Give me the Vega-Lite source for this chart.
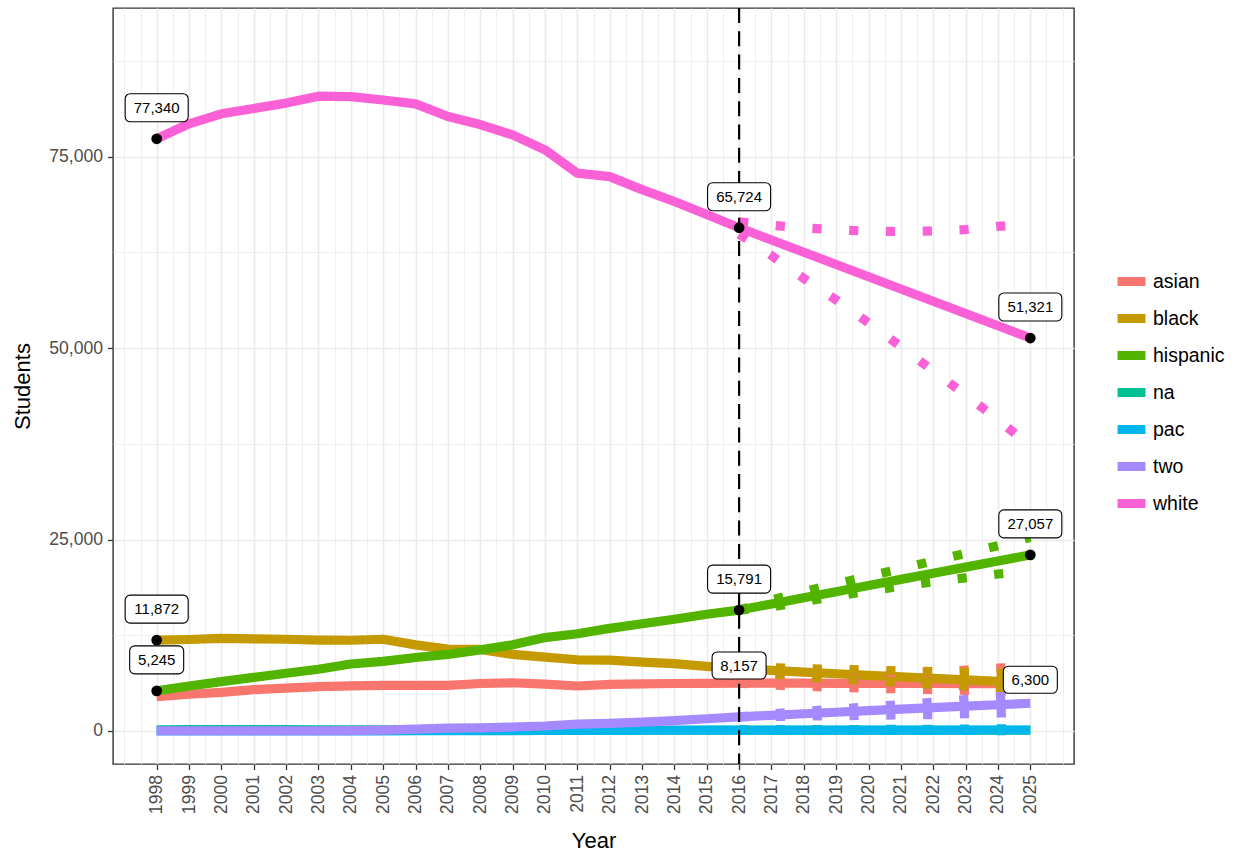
{
  "$schema": "https://vega.github.io/schema/vega-lite/v6.json",
  "description": "Student enrollment by group, 1998-2016 with projections to 2025",
  "width": 961,
  "height": 756,
  "autosize": {"type": "none"},
  "padding": {"left": 113, "top": 8, "right": 164, "bottom": 91},
  "background": "white",
  "datasets": {
    "enrollment": [
      {"group": "asian", "series": "base", "year": 1998, "students": 4500},
      {"group": "asian", "series": "base", "year": 1999, "students": 4800},
      {"group": "asian", "series": "base", "year": 2000, "students": 5050},
      {"group": "asian", "series": "base", "year": 2001, "students": 5400},
      {"group": "asian", "series": "base", "year": 2002, "students": 5600},
      {"group": "asian", "series": "base", "year": 2003, "students": 5800},
      {"group": "asian", "series": "base", "year": 2004, "students": 5880},
      {"group": "asian", "series": "base", "year": 2005, "students": 5970},
      {"group": "asian", "series": "base", "year": 2006, "students": 5950},
      {"group": "asian", "series": "base", "year": 2007, "students": 5950},
      {"group": "asian", "series": "base", "year": 2008, "students": 6200},
      {"group": "asian", "series": "base", "year": 2009, "students": 6300},
      {"group": "asian", "series": "base", "year": 2010, "students": 6130},
      {"group": "asian", "series": "base", "year": 2011, "students": 5880},
      {"group": "asian", "series": "base", "year": 2012, "students": 6100},
      {"group": "asian", "series": "base", "year": 2013, "students": 6150},
      {"group": "asian", "series": "base", "year": 2014, "students": 6200},
      {"group": "asian", "series": "base", "year": 2015, "students": 6230},
      {"group": "asian", "series": "base", "year": 2016, "students": 6250},
      {"group": "asian", "series": "base", "year": 2017, "students": 6250},
      {"group": "asian", "series": "base", "year": 2018, "students": 6240},
      {"group": "asian", "series": "base", "year": 2019, "students": 6230},
      {"group": "asian", "series": "base", "year": 2020, "students": 6220},
      {"group": "asian", "series": "base", "year": 2021, "students": 6210},
      {"group": "asian", "series": "base", "year": 2022, "students": 6200},
      {"group": "asian", "series": "base", "year": 2023, "students": 6190},
      {"group": "asian", "series": "base", "year": 2024, "students": 6180},
      {"group": "asian", "series": "base", "year": 2025, "students": 6170},
      {"group": "black", "series": "base", "year": 1998, "students": 11872},
      {"group": "black", "series": "base", "year": 1999, "students": 11950},
      {"group": "black", "series": "base", "year": 2000, "students": 12100},
      {"group": "black", "series": "base", "year": 2001, "students": 12020},
      {"group": "black", "series": "base", "year": 2002, "students": 11980},
      {"group": "black", "series": "base", "year": 2003, "students": 11880},
      {"group": "black", "series": "base", "year": 2004, "students": 11850},
      {"group": "black", "series": "base", "year": 2005, "students": 11980},
      {"group": "black", "series": "base", "year": 2006, "students": 11250},
      {"group": "black", "series": "base", "year": 2007, "students": 10700},
      {"group": "black", "series": "base", "year": 2008, "students": 10650},
      {"group": "black", "series": "base", "year": 2009, "students": 10000},
      {"group": "black", "series": "base", "year": 2010, "students": 9650},
      {"group": "black", "series": "base", "year": 2011, "students": 9300},
      {"group": "black", "series": "base", "year": 2012, "students": 9250},
      {"group": "black", "series": "base", "year": 2013, "students": 9000},
      {"group": "black", "series": "base", "year": 2014, "students": 8800},
      {"group": "black", "series": "base", "year": 2015, "students": 8450},
      {"group": "black", "series": "base", "year": 2016, "students": 8157},
      {"group": "black", "series": "base", "year": 2017, "students": 7920},
      {"group": "black", "series": "base", "year": 2018, "students": 7700},
      {"group": "black", "series": "base", "year": 2019, "students": 7480},
      {"group": "black", "series": "base", "year": 2020, "students": 7270},
      {"group": "black", "series": "base", "year": 2021, "students": 7070},
      {"group": "black", "series": "base", "year": 2022, "students": 6870},
      {"group": "black", "series": "base", "year": 2023, "students": 6680},
      {"group": "black", "series": "base", "year": 2024, "students": 6490},
      {"group": "black", "series": "base", "year": 2025, "students": 6300},
      {"group": "hispanic", "series": "base", "year": 1998, "students": 5245},
      {"group": "hispanic", "series": "base", "year": 1999, "students": 5880},
      {"group": "hispanic", "series": "base", "year": 2000, "students": 6450},
      {"group": "hispanic", "series": "base", "year": 2001, "students": 7010},
      {"group": "hispanic", "series": "base", "year": 2002, "students": 7540},
      {"group": "hispanic", "series": "base", "year": 2003, "students": 8060},
      {"group": "hispanic", "series": "base", "year": 2004, "students": 8750},
      {"group": "hispanic", "series": "base", "year": 2005, "students": 9100},
      {"group": "hispanic", "series": "base", "year": 2006, "students": 9600},
      {"group": "hispanic", "series": "base", "year": 2007, "students": 10000},
      {"group": "hispanic", "series": "base", "year": 2008, "students": 10600},
      {"group": "hispanic", "series": "base", "year": 2009, "students": 11250},
      {"group": "hispanic", "series": "base", "year": 2010, "students": 12200},
      {"group": "hispanic", "series": "base", "year": 2011, "students": 12700},
      {"group": "hispanic", "series": "base", "year": 2012, "students": 13400},
      {"group": "hispanic", "series": "base", "year": 2013, "students": 14000},
      {"group": "hispanic", "series": "base", "year": 2014, "students": 14600},
      {"group": "hispanic", "series": "base", "year": 2015, "students": 15250},
      {"group": "hispanic", "series": "base", "year": 2016, "students": 15791},
      {"group": "hispanic", "series": "base", "year": 2017, "students": 16590},
      {"group": "hispanic", "series": "base", "year": 2018, "students": 17390},
      {"group": "hispanic", "series": "base", "year": 2019, "students": 18190},
      {"group": "hispanic", "series": "base", "year": 2020, "students": 19000},
      {"group": "hispanic", "series": "base", "year": 2021, "students": 19800},
      {"group": "hispanic", "series": "base", "year": 2022, "students": 20600},
      {"group": "hispanic", "series": "base", "year": 2023, "students": 21400},
      {"group": "hispanic", "series": "base", "year": 2024, "students": 22200},
      {"group": "hispanic", "series": "base", "year": 2025, "students": 23000},
      {"group": "na", "series": "base", "year": 1998, "students": 160},
      {"group": "na", "series": "base", "year": 1999, "students": 170},
      {"group": "na", "series": "base", "year": 2000, "students": 180},
      {"group": "na", "series": "base", "year": 2001, "students": 180},
      {"group": "na", "series": "base", "year": 2002, "students": 170},
      {"group": "na", "series": "base", "year": 2003, "students": 160},
      {"group": "na", "series": "base", "year": 2004, "students": 150},
      {"group": "na", "series": "base", "year": 2005, "students": 150},
      {"group": "na", "series": "base", "year": 2006, "students": 140},
      {"group": "na", "series": "base", "year": 2007, "students": 130},
      {"group": "na", "series": "base", "year": 2008, "students": 120},
      {"group": "na", "series": "base", "year": 2009, "students": 110},
      {"group": "na", "series": "base", "year": 2010, "students": 100},
      {"group": "na", "series": "base", "year": 2011, "students": 100},
      {"group": "na", "series": "base", "year": 2012, "students": 100},
      {"group": "na", "series": "base", "year": 2013, "students": 100},
      {"group": "na", "series": "base", "year": 2014, "students": 100},
      {"group": "na", "series": "base", "year": 2015, "students": 100},
      {"group": "na", "series": "base", "year": 2016, "students": 100},
      {"group": "na", "series": "base", "year": 2017, "students": 100},
      {"group": "na", "series": "base", "year": 2018, "students": 100},
      {"group": "na", "series": "base", "year": 2019, "students": 100},
      {"group": "na", "series": "base", "year": 2020, "students": 100},
      {"group": "na", "series": "base", "year": 2021, "students": 100},
      {"group": "na", "series": "base", "year": 2022, "students": 100},
      {"group": "na", "series": "base", "year": 2023, "students": 100},
      {"group": "na", "series": "base", "year": 2024, "students": 100},
      {"group": "na", "series": "base", "year": 2025, "students": 100},
      {"group": "pac", "series": "base", "year": 1998, "students": 0},
      {"group": "pac", "series": "base", "year": 1999, "students": 0},
      {"group": "pac", "series": "base", "year": 2000, "students": 0},
      {"group": "pac", "series": "base", "year": 2001, "students": 0},
      {"group": "pac", "series": "base", "year": 2002, "students": 0},
      {"group": "pac", "series": "base", "year": 2003, "students": 0},
      {"group": "pac", "series": "base", "year": 2004, "students": 10},
      {"group": "pac", "series": "base", "year": 2005, "students": 20},
      {"group": "pac", "series": "base", "year": 2006, "students": 30},
      {"group": "pac", "series": "base", "year": 2007, "students": 40},
      {"group": "pac", "series": "base", "year": 2008, "students": 50},
      {"group": "pac", "series": "base", "year": 2009, "students": 60},
      {"group": "pac", "series": "base", "year": 2010, "students": 70},
      {"group": "pac", "series": "base", "year": 2011, "students": 80},
      {"group": "pac", "series": "base", "year": 2012, "students": 90},
      {"group": "pac", "series": "base", "year": 2013, "students": 100},
      {"group": "pac", "series": "base", "year": 2014, "students": 100},
      {"group": "pac", "series": "base", "year": 2015, "students": 110},
      {"group": "pac", "series": "base", "year": 2016, "students": 110},
      {"group": "pac", "series": "base", "year": 2017, "students": 115},
      {"group": "pac", "series": "base", "year": 2018, "students": 115},
      {"group": "pac", "series": "base", "year": 2019, "students": 120},
      {"group": "pac", "series": "base", "year": 2020, "students": 120},
      {"group": "pac", "series": "base", "year": 2021, "students": 120},
      {"group": "pac", "series": "base", "year": 2022, "students": 125},
      {"group": "pac", "series": "base", "year": 2023, "students": 125},
      {"group": "pac", "series": "base", "year": 2024, "students": 130},
      {"group": "pac", "series": "base", "year": 2025, "students": 130},
      {"group": "two", "series": "base", "year": 1998, "students": 30},
      {"group": "two", "series": "base", "year": 1999, "students": 30},
      {"group": "two", "series": "base", "year": 2000, "students": 30},
      {"group": "two", "series": "base", "year": 2001, "students": 30},
      {"group": "two", "series": "base", "year": 2002, "students": 30},
      {"group": "two", "series": "base", "year": 2003, "students": 30},
      {"group": "two", "series": "base", "year": 2004, "students": 60},
      {"group": "two", "series": "base", "year": 2005, "students": 120},
      {"group": "two", "series": "base", "year": 2006, "students": 250},
      {"group": "two", "series": "base", "year": 2007, "students": 380},
      {"group": "two", "series": "base", "year": 2008, "students": 420},
      {"group": "two", "series": "base", "year": 2009, "students": 520},
      {"group": "two", "series": "base", "year": 2010, "students": 650},
      {"group": "two", "series": "base", "year": 2011, "students": 900},
      {"group": "two", "series": "base", "year": 2012, "students": 1000},
      {"group": "two", "series": "base", "year": 2013, "students": 1150},
      {"group": "two", "series": "base", "year": 2014, "students": 1350},
      {"group": "two", "series": "base", "year": 2015, "students": 1600},
      {"group": "two", "series": "base", "year": 2016, "students": 1850},
      {"group": "two", "series": "base", "year": 2017, "students": 2050},
      {"group": "two", "series": "base", "year": 2018, "students": 2250},
      {"group": "two", "series": "base", "year": 2019, "students": 2450},
      {"group": "two", "series": "base", "year": 2020, "students": 2650},
      {"group": "two", "series": "base", "year": 2021, "students": 2850},
      {"group": "two", "series": "base", "year": 2022, "students": 3050},
      {"group": "two", "series": "base", "year": 2023, "students": 3250},
      {"group": "two", "series": "base", "year": 2024, "students": 3430},
      {"group": "two", "series": "base", "year": 2025, "students": 3620},
      {"group": "white", "series": "base", "year": 1998, "students": 77340},
      {"group": "white", "series": "base", "year": 1999, "students": 79300},
      {"group": "white", "series": "base", "year": 2000, "students": 80600},
      {"group": "white", "series": "base", "year": 2001, "students": 81300},
      {"group": "white", "series": "base", "year": 2002, "students": 82000},
      {"group": "white", "series": "base", "year": 2003, "students": 82900},
      {"group": "white", "series": "base", "year": 2004, "students": 82850},
      {"group": "white", "series": "base", "year": 2005, "students": 82400},
      {"group": "white", "series": "base", "year": 2006, "students": 81900},
      {"group": "white", "series": "base", "year": 2007, "students": 80250},
      {"group": "white", "series": "base", "year": 2008, "students": 79200},
      {"group": "white", "series": "base", "year": 2009, "students": 77850},
      {"group": "white", "series": "base", "year": 2010, "students": 75900},
      {"group": "white", "series": "base", "year": 2011, "students": 72850},
      {"group": "white", "series": "base", "year": 2012, "students": 72400},
      {"group": "white", "series": "base", "year": 2013, "students": 70700},
      {"group": "white", "series": "base", "year": 2014, "students": 69150},
      {"group": "white", "series": "base", "year": 2015, "students": 67450},
      {"group": "white", "series": "base", "year": 2016, "students": 65724},
      {"group": "white", "series": "base", "year": 2017, "students": 64124},
      {"group": "white", "series": "base", "year": 2018, "students": 62524},
      {"group": "white", "series": "base", "year": 2019, "students": 60924},
      {"group": "white", "series": "base", "year": 2020, "students": 59324},
      {"group": "white", "series": "base", "year": 2021, "students": 57723},
      {"group": "white", "series": "base", "year": 2022, "students": 56122},
      {"group": "white", "series": "base", "year": 2023, "students": 54522},
      {"group": "white", "series": "base", "year": 2024, "students": 52921},
      {"group": "white", "series": "base", "year": 2025, "students": 51321},

      {"group": "asian", "series": "high", "year": 2016, "students": 6250},
      {"group": "asian", "series": "high", "year": 2017, "students": 6450},
      {"group": "asian", "series": "high", "year": 2018, "students": 6700},
      {"group": "asian", "series": "high", "year": 2019, "students": 6950},
      {"group": "asian", "series": "high", "year": 2020, "students": 7200},
      {"group": "asian", "series": "high", "year": 2021, "students": 7450},
      {"group": "asian", "series": "high", "year": 2022, "students": 7700},
      {"group": "asian", "series": "high", "year": 2023, "students": 7950},
      {"group": "asian", "series": "high", "year": 2024, "students": 8200},
      {"group": "asian", "series": "high", "year": 2025, "students": 8450},
      {"group": "asian", "series": "low", "year": 2016, "students": 6250},
      {"group": "asian", "series": "low", "year": 2017, "students": 6000},
      {"group": "asian", "series": "low", "year": 2018, "students": 5850},
      {"group": "asian", "series": "low", "year": 2019, "students": 5700},
      {"group": "asian", "series": "low", "year": 2020, "students": 5600},
      {"group": "asian", "series": "low", "year": 2021, "students": 5500},
      {"group": "asian", "series": "low", "year": 2022, "students": 5400},
      {"group": "asian", "series": "low", "year": 2023, "students": 5300},
      {"group": "asian", "series": "low", "year": 2024, "students": 5200},
      {"group": "asian", "series": "low", "year": 2025, "students": 5100},
      {"group": "black", "series": "high", "year": 2016, "students": 8157},
      {"group": "black", "series": "high", "year": 2017, "students": 8250},
      {"group": "black", "series": "high", "year": 2018, "students": 8150},
      {"group": "black", "series": "high", "year": 2019, "students": 8050},
      {"group": "black", "series": "high", "year": 2020, "students": 7950},
      {"group": "black", "series": "high", "year": 2021, "students": 7850},
      {"group": "black", "series": "high", "year": 2022, "students": 7750},
      {"group": "black", "series": "high", "year": 2023, "students": 7650},
      {"group": "black", "series": "high", "year": 2024, "students": 7550},
      {"group": "black", "series": "high", "year": 2025, "students": 7450},
      {"group": "black", "series": "low", "year": 2016, "students": 8157},
      {"group": "black", "series": "low", "year": 2017, "students": 7450},
      {"group": "black", "series": "low", "year": 2018, "students": 7100},
      {"group": "black", "series": "low", "year": 2019, "students": 6850},
      {"group": "black", "series": "low", "year": 2020, "students": 6600},
      {"group": "black", "series": "low", "year": 2021, "students": 6350},
      {"group": "black", "series": "low", "year": 2022, "students": 6100},
      {"group": "black", "series": "low", "year": 2023, "students": 5900},
      {"group": "black", "series": "low", "year": 2024, "students": 5680},
      {"group": "black", "series": "low", "year": 2025, "students": 5450},
      {"group": "hispanic", "series": "high", "year": 2016, "students": 15791},
      {"group": "hispanic", "series": "high", "year": 2017, "students": 17100},
      {"group": "hispanic", "series": "high", "year": 2018, "students": 18200},
      {"group": "hispanic", "series": "high", "year": 2019, "students": 19200},
      {"group": "hispanic", "series": "high", "year": 2020, "students": 20200},
      {"group": "hispanic", "series": "high", "year": 2021, "students": 21200},
      {"group": "hispanic", "series": "high", "year": 2022, "students": 22200},
      {"group": "hispanic", "series": "high", "year": 2023, "students": 23200},
      {"group": "hispanic", "series": "high", "year": 2024, "students": 24200},
      {"group": "hispanic", "series": "high", "year": 2025, "students": 25300},
      {"group": "hispanic", "series": "low", "year": 2016, "students": 15791},
      {"group": "hispanic", "series": "low", "year": 2017, "students": 16200},
      {"group": "hispanic", "series": "low", "year": 2018, "students": 16900},
      {"group": "hispanic", "series": "low", "year": 2019, "students": 17600},
      {"group": "hispanic", "series": "low", "year": 2020, "students": 18300},
      {"group": "hispanic", "series": "low", "year": 2021, "students": 18900},
      {"group": "hispanic", "series": "low", "year": 2022, "students": 19500},
      {"group": "hispanic", "series": "low", "year": 2023, "students": 20000},
      {"group": "hispanic", "series": "low", "year": 2024, "students": 20500},
      {"group": "hispanic", "series": "low", "year": 2025, "students": 20900},
      {"group": "na", "series": "high", "year": 2016, "students": 100},
      {"group": "na", "series": "high", "year": 2017, "students": 110},
      {"group": "na", "series": "high", "year": 2018, "students": 120},
      {"group": "na", "series": "high", "year": 2019, "students": 130},
      {"group": "na", "series": "high", "year": 2020, "students": 140},
      {"group": "na", "series": "high", "year": 2021, "students": 150},
      {"group": "na", "series": "high", "year": 2022, "students": 160},
      {"group": "na", "series": "high", "year": 2023, "students": 170},
      {"group": "na", "series": "high", "year": 2024, "students": 180},
      {"group": "na", "series": "high", "year": 2025, "students": 190},
      {"group": "na", "series": "low", "year": 2016, "students": 100},
      {"group": "na", "series": "low", "year": 2017, "students": 95},
      {"group": "na", "series": "low", "year": 2018, "students": 90},
      {"group": "na", "series": "low", "year": 2019, "students": 85},
      {"group": "na", "series": "low", "year": 2020, "students": 80},
      {"group": "na", "series": "low", "year": 2021, "students": 75},
      {"group": "na", "series": "low", "year": 2022, "students": 70},
      {"group": "na", "series": "low", "year": 2023, "students": 65},
      {"group": "na", "series": "low", "year": 2024, "students": 60},
      {"group": "na", "series": "low", "year": 2025, "students": 55},
      {"group": "pac", "series": "high", "year": 2016, "students": 110},
      {"group": "pac", "series": "high", "year": 2017, "students": 130},
      {"group": "pac", "series": "high", "year": 2018, "students": 150},
      {"group": "pac", "series": "high", "year": 2019, "students": 170},
      {"group": "pac", "series": "high", "year": 2020, "students": 190},
      {"group": "pac", "series": "high", "year": 2021, "students": 210},
      {"group": "pac", "series": "high", "year": 2022, "students": 230},
      {"group": "pac", "series": "high", "year": 2023, "students": 250},
      {"group": "pac", "series": "high", "year": 2024, "students": 270},
      {"group": "pac", "series": "high", "year": 2025, "students": 290},
      {"group": "pac", "series": "low", "year": 2016, "students": 110},
      {"group": "pac", "series": "low", "year": 2017, "students": 105},
      {"group": "pac", "series": "low", "year": 2018, "students": 100},
      {"group": "pac", "series": "low", "year": 2019, "students": 95},
      {"group": "pac", "series": "low", "year": 2020, "students": 90},
      {"group": "pac", "series": "low", "year": 2021, "students": 85},
      {"group": "pac", "series": "low", "year": 2022, "students": 80},
      {"group": "pac", "series": "low", "year": 2023, "students": 75},
      {"group": "pac", "series": "low", "year": 2024, "students": 70},
      {"group": "pac", "series": "low", "year": 2025, "students": 65},
      {"group": "two", "series": "high", "year": 2016, "students": 1850},
      {"group": "two", "series": "high", "year": 2017, "students": 2250},
      {"group": "two", "series": "high", "year": 2018, "students": 2550},
      {"group": "two", "series": "high", "year": 2019, "students": 2850},
      {"group": "two", "series": "high", "year": 2020, "students": 3150},
      {"group": "two", "series": "high", "year": 2021, "students": 3450},
      {"group": "two", "series": "high", "year": 2022, "students": 3750},
      {"group": "two", "series": "high", "year": 2023, "students": 4100},
      {"group": "two", "series": "high", "year": 2024, "students": 4450},
      {"group": "two", "series": "high", "year": 2025, "students": 4800},
      {"group": "two", "series": "low", "year": 2016, "students": 1850},
      {"group": "two", "series": "low", "year": 2017, "students": 1900},
      {"group": "two", "series": "low", "year": 2018, "students": 1950},
      {"group": "two", "series": "low", "year": 2019, "students": 2000},
      {"group": "two", "series": "low", "year": 2020, "students": 2050},
      {"group": "two", "series": "low", "year": 2021, "students": 2100},
      {"group": "two", "series": "low", "year": 2022, "students": 2150},
      {"group": "two", "series": "low", "year": 2023, "students": 2250},
      {"group": "two", "series": "low", "year": 2024, "students": 2350},
      {"group": "two", "series": "low", "year": 2025, "students": 2450},
      {"group": "white", "series": "high", "year": 2016, "students": 66500},
      {"group": "white", "series": "high", "year": 2017, "students": 66050},
      {"group": "white", "series": "high", "year": 2018, "students": 65700},
      {"group": "white", "series": "high", "year": 2019, "students": 65450},
      {"group": "white", "series": "high", "year": 2020, "students": 65280},
      {"group": "white", "series": "high", "year": 2021, "students": 65220},
      {"group": "white", "series": "high", "year": 2022, "students": 65300},
      {"group": "white", "series": "high", "year": 2023, "students": 65480},
      {"group": "white", "series": "high", "year": 2024, "students": 65900},
      {"group": "white", "series": "high", "year": 2025, "students": 66200},
      {"group": "white", "series": "low", "year": 2016, "students": 64900},
      {"group": "white", "series": "low", "year": 2017, "students": 62100},
      {"group": "white", "series": "low", "year": 2018, "students": 59100},
      {"group": "white", "series": "low", "year": 2019, "students": 56300},
      {"group": "white", "series": "low", "year": 2020, "students": 53300},
      {"group": "white", "series": "low", "year": 2021, "students": 50200},
      {"group": "white", "series": "low", "year": 2022, "students": 47000},
      {"group": "white", "series": "low", "year": 2023, "students": 43900},
      {"group": "white", "series": "low", "year": 2024, "students": 40650},
      {"group": "white", "series": "low", "year": 2025, "students": 37200}
    ],
    "labels": [
      {"group": "white", "year": 1998, "students": 77340, "label": "77,340"},
      {"group": "black", "year": 1998, "students": 11872, "label": "11,872"},
      {"group": "hispanic", "year": 1998, "students": 5245, "label": "5,245"},
      {"group": "white", "year": 2016, "students": 65724, "label": "65,724"},
      {"group": "hispanic", "year": 2016, "students": 15791, "label": "15,791"},
      {"group": "black", "year": 2016, "students": 8157, "label": "8,157"},
      {"group": "white", "year": 2025, "students": 51321, "label": "51,321"},
      {"group": "hispanic", "year": 2025, "students": 23000, "label": "27,057"},
      {"group": "black", "year": 2025, "students": 6300, "label": "6,300"}
    ]
  },
  "layer": [
    {
      "data": {"name": "enrollment"},
      "transform": [{"filter": "datum.series === 'base'"}],
      "mark": {"type": "line", "strokeWidth": 9.2, "strokeCap": "butt", "strokeJoin": "round"},
      "encoding": {
        "x": {
          "field": "year",
          "type": "quantitative",
          "scale": {"domain": [1996.65, 2026.35], "nice": false, "zero": false},
          "axis": {
            "title": "Year",
            "tickCount": 200,
            "values": [1997, 1997.5, 1998, 1998.5, 1999, 1999.5, 2000, 2000.5, 2001, 2001.5, 2002, 2002.5, 2003, 2003.5, 2004, 2004.5, 2005, 2005.5, 2006, 2006.5, 2007, 2007.5, 2008, 2008.5, 2009, 2009.5, 2010, 2010.5, 2011, 2011.5, 2012, 2012.5, 2013, 2013.5, 2014, 2014.5, 2015, 2015.5, 2016, 2016.5, 2017, 2017.5, 2018, 2018.5, 2019, 2019.5, 2020, 2020.5, 2021, 2021.5, 2022, 2022.5, 2023, 2023.5, 2024, 2024.5, 2025, 2025.5, 2026],
            "labelExpr": "datum.value % 1 === 0 && datum.value >= 1998 && datum.value <= 2025 ? '' + datum.value : ''",
            "labelAngle": 270,
            "labelAlign": "right",
            "labelBaseline": "middle",
            "labelPadding": 5,
            "labelOverlap": false,
            "tickOpacity": {"condition": {"test": "datum.value % 1 === 0 && datum.value >= 1998 && datum.value <= 2025", "value": 1}, "value": 0},
            "gridWidth": {"condition": {"test": "datum.value % 1 === 0 && datum.value >= 1998 && datum.value <= 2025", "value": 1.6}, "value": 0.8},
            "titlePadding": 17
          }
        },
        "y": {
          "field": "students",
          "type": "quantitative",
          "scale": {"domain": [-4310, 94420], "nice": false, "zero": false},
          "axis": {
            "title": "Students",
            "tickCount": 50,
            "values": [0, 12500, 25000, 37500, 50000, 62500, 75000, 87500],
            "labelExpr": "datum.value % 25000 === 0 ? format(datum.value, ',') : ''",
            "labelPadding": 5,
            "labelOverlap": false,
            "tickOpacity": {"condition": {"test": "datum.value % 25000 === 0", "value": 1}, "value": 0},
            "gridWidth": {"condition": {"test": "datum.value % 25000 === 0", "value": 1.6}, "value": 0.8},
            "titlePadding": 14
          }
        },
        "color": {
          "field": "group",
          "type": "nominal",
          "scale": {
            "domain": ["asian", "black", "hispanic", "na", "pac", "two", "white"],
            "range": ["#F8766D", "#C49A00", "#53B400", "#00C094", "#00B6EB", "#A58AFF", "#FB61D7"]
          },
          "legend": {
            "title": null,
            "orient": "none",
            "legendX": 1000,
            "legendY": 255,
            "symbolType": "stroke",
            "symbolStrokeWidth": 9,
            "symbolSize": 780,
            "labelFontSize": 19.5,
            "labelColor": "black",
            "labelOffset": 3,
            "rowPadding": 0
          }
        }
      }
    },
    {
      "data": {"name": "enrollment"},
      "transform": [{"filter": "datum.series !== 'base'"}],
      "mark": {"type": "line", "strokeWidth": 9.2, "strokeCap": "butt", "strokeDash": [9.2, 27.6]},
      "encoding": {
        "x": {"field": "year", "type": "quantitative"},
        "y": {"field": "students", "type": "quantitative"},
        "color": {"field": "group", "type": "nominal"},
        "detail": {"field": "series", "type": "nominal"}
      }
    },
    {
      "data": {"values": [{"year": 2016}]},
      "mark": {"type": "rule", "color": "black", "strokeWidth": 2.2, "strokeDash": [15, 8.3]},
      "encoding": {
        "x": {"field": "year", "type": "quantitative"}
      }
    },
    {
      "data": {"name": "labels"},
      "mark": {"type": "circle", "size": 115, "color": "black", "opacity": 1},
      "encoding": {
        "x": {"field": "year", "type": "quantitative"},
        "y": {"field": "students", "type": "quantitative"}
      }
    },
    {
      "data": {"name": "labels"},
      "transform": [{"filter": "length(datum.label) > 5"}],
      "mark": {"type": "rect", "width": 63, "height": 28, "cornerRadius": 5, "fill": "white", "stroke": "black", "strokeWidth": 1.1, "yOffset": -31},
      "encoding": {
        "x": {"field": "year", "type": "quantitative"},
        "y": {"field": "students", "type": "quantitative"}
      }
    },
    {
      "data": {"name": "labels"},
      "transform": [{"filter": "length(datum.label) <= 5 && datum.group !== 'black'"}],
      "mark": {"type": "rect", "width": 54, "height": 28, "cornerRadius": 5, "fill": "white", "stroke": "black", "strokeWidth": 1.1, "yOffset": -31},
      "encoding": {
        "x": {"field": "year", "type": "quantitative"},
        "y": {"field": "students", "type": "quantitative"}
      }
    },
    {
      "data": {"name": "labels"},
      "transform": [{"filter": "datum.group === 'black' && datum.year > 1998"}],
      "mark": {"type": "rect", "width": 54, "height": 27, "cornerRadius": 5, "fill": "white", "stroke": "black", "strokeWidth": 1.1, "yOffset": -3},
      "encoding": {
        "x": {"field": "year", "type": "quantitative"},
        "y": {"field": "students", "type": "quantitative"}
      }
    },
    {
      "data": {"name": "labels"},
      "transform": [{"filter": "!(datum.group === 'black' && datum.year > 1998)"}],
      "mark": {"type": "text", "fontSize": 15, "color": "black", "align": "center", "baseline": "middle", "dy": -31},
      "encoding": {
        "x": {"field": "year", "type": "quantitative"},
        "y": {"field": "students", "type": "quantitative"},
        "text": {"field": "label"}
      }
    },
    {
      "data": {"name": "labels"},
      "transform": [{"filter": "datum.group === 'black' && datum.year > 1998"}],
      "mark": {"type": "text", "fontSize": 15, "color": "black", "align": "center", "baseline": "middle", "dy": -3},
      "encoding": {
        "x": {"field": "year", "type": "quantitative"},
        "y": {"field": "students", "type": "quantitative"},
        "text": {"field": "label"}
      }
    }
  ],
  "config": {
    "font": "Liberation Sans",
    "view": {"stroke": "#333333", "strokeWidth": 1.4},
    "axis": {
      "domain": false,
      "grid": true,
      "gridColor": "#EBEBEB",
      "tickColor": "#333333",
      "tickWidth": 1.3,
      "tickSize": 5.5,
      "labelFontSize": 17.6,
      "labelColor": "#4D4D4D",
      "labelFlush": false,
      "labelOverlap": false,
      "titleFontSize": 22,
      "titleFontWeight": "normal",
      "titleColor": "black"
    },
    "legend": {
      "labelFont": "Liberation Sans"
    }
  }
}
